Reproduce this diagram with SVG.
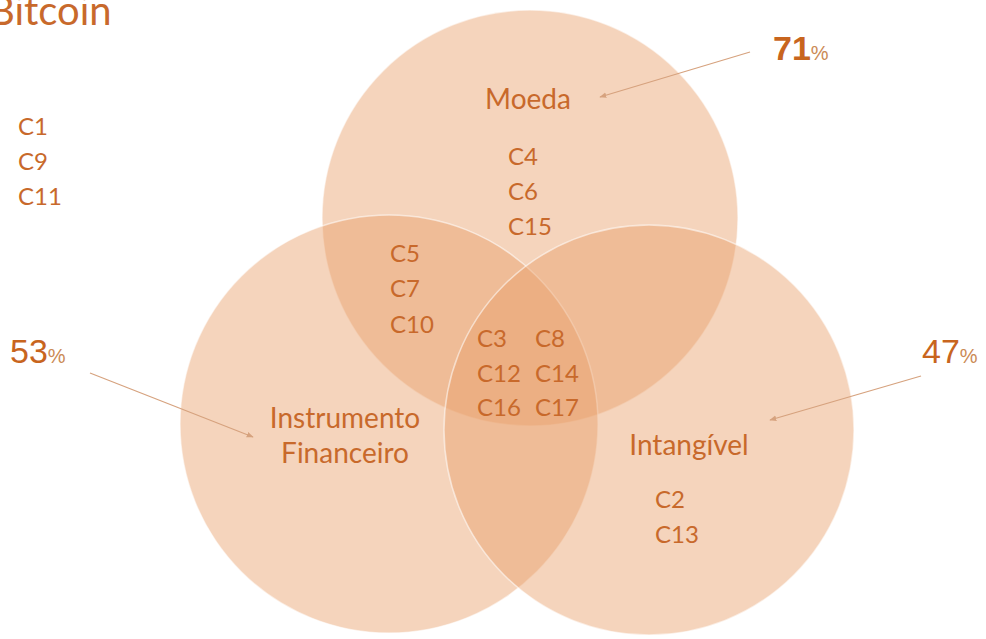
<svg xmlns="http://www.w3.org/2000/svg" width="986" height="639" viewBox="0 0 986 639">
  <defs>
    <style>
      .set { fill: #E8A06A; fill-opacity: 0.45; stroke: #FFFFFF; stroke-opacity: 0.55; stroke-width: 1.5; }
      .lbl { font-family: Lato, "Open Sans", sans-serif; fill: #C8692B; font-size: 28px; }
      .item { font-family: Lato, "Open Sans", sans-serif; fill: #C8692B; font-size: 24px; }
      .num { font-family: "Liberation Sans", Arial, sans-serif; fill: #C8651E; font-size: 34px; }
      .pct { font-family: "Liberation Sans", Arial, sans-serif; fill: #CB8A55; font-size: 20px; }
      .conn { stroke: #D6A27E; stroke-width: 1.2; fill: none; }
    </style>
    <marker id="arr" viewBox="0 0 10 10" refX="9" refY="5" markerWidth="7" markerHeight="7" orient="auto" markerUnits="userSpaceOnUse">
      <path d="M0,1 L10,5 L0,9 z" fill="#D6A27E"/>
    </marker>
  </defs>
  <rect width="986" height="639" fill="#FFFFFF"/>

  <g id="title">
    <text x="-11" y="25" style="font-family: Lato, 'Open Sans', sans-serif; fill: #C8692B; font-size: 40px;">Bitcoin</text>
  </g>

  <g id="outside">
    <text class="item" x="18" y="135">C1</text>
    <text class="item" x="18" y="170">C9</text>
    <text class="item" x="18" y="205">C11</text>
  </g>

  <g id="moeda">
    <circle class="set" cx="530" cy="218" r="208"/>
    <text class="lbl" x="528" y="109" text-anchor="middle">Moeda</text>
    <text class="item" x="508" y="165">C4</text>
    <text class="item" x="508" y="200">C6</text>
    <text class="item" x="508" y="235">C15</text>
  </g>

  <g id="instrumento">
    <circle class="set" cx="389" cy="424" r="209"/>
    <text class="lbl" x="345" y="428" text-anchor="middle">Instrumento</text>
    <text class="lbl" x="345" y="463" text-anchor="middle">Financeiro</text>
  </g>

  <g id="intangivel">
    <circle class="set" cx="649" cy="430" r="205"/>
    <text class="lbl" x="689" y="455" text-anchor="middle">Intangível</text>
    <text class="item" x="655" y="508">C2</text>
    <text class="item" x="655" y="543">C13</text>
  </g>

  <g id="moeda-instrumento">
    <text class="item" x="390" y="262">C5</text>
    <text class="item" x="390" y="297">C7</text>
    <text class="item" x="390" y="333">C10</text>
  </g>

  <g id="all-three">
    <text class="item" x="477" y="347">C3</text>
    <text class="item" x="535" y="347">C8</text>
    <text class="item" x="477" y="382">C12</text>
    <text class="item" x="535" y="382">C14</text>
    <text class="item" x="477" y="416">C16</text>
    <text class="item" x="535" y="416">C17</text>
  </g>

  <g id="pct-moeda">
    <text x="773" y="60"><tspan class="num" font-weight="bold">71</tspan><tspan class="pct">%</tspan></text>
  </g>
  <g id="pct-instrumento">
    <text x="10" y="363"><tspan class="num">53</tspan><tspan class="pct">%</tspan></text>
  </g>
  <g id="pct-intangivel">
    <text x="922" y="363"><tspan class="num">47</tspan><tspan class="pct">%</tspan></text>
  </g>

  <g id="connectors">
    <line class="conn" x1="750" y1="52" x2="600" y2="97" marker-end="url(#arr)"/>
    <line class="conn" x1="90" y1="373" x2="253" y2="437" marker-end="url(#arr)"/>
    <line class="conn" x1="921" y1="376" x2="770" y2="420" marker-end="url(#arr)"/>
  </g>
</svg>
